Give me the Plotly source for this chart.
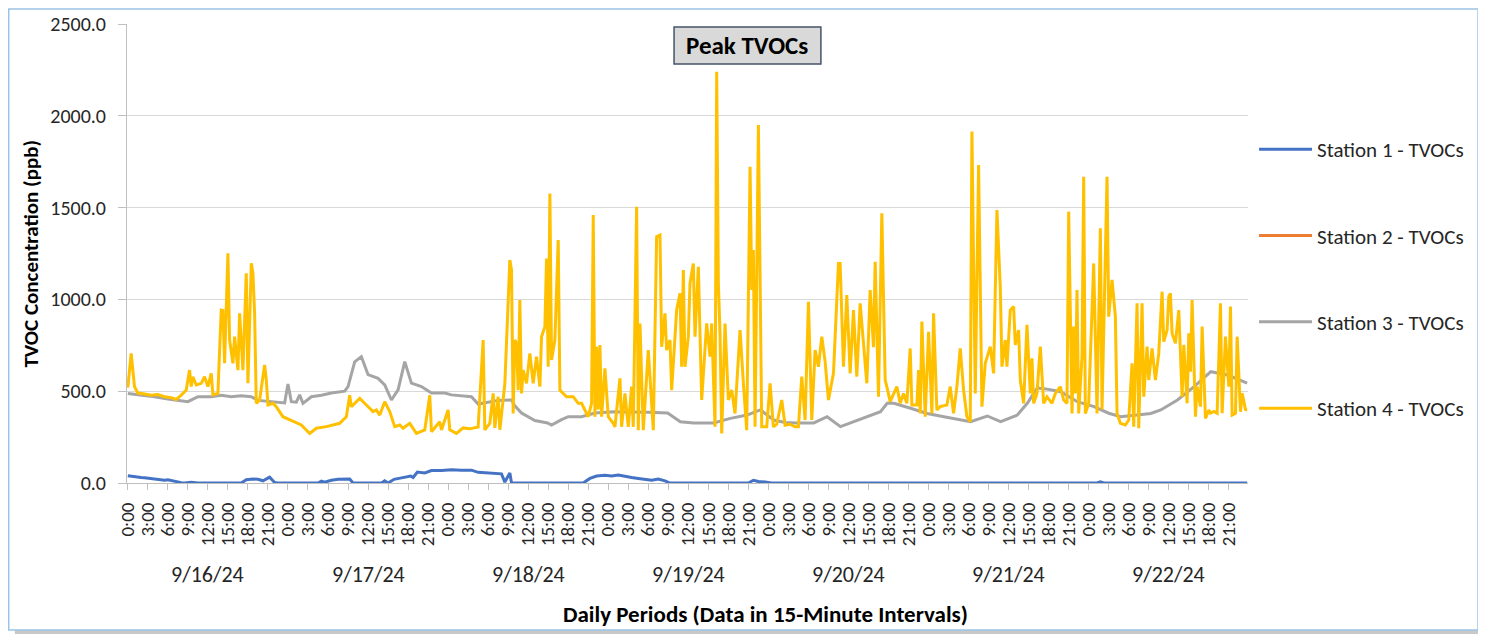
import plotly.graph_objects as go

# ---------------- data (hours since 9/16/24 0:00, values in ppb) ----------------
days = ["9/16/24", "9/17/24", "9/18/24", "9/19/24", "9/20/24", "9/21/24", "9/22/24"]
hour_labels = ["0:00", "3:00", "6:00", "9:00", "12:00", "15:00", "18:00", "21:00"]

s1_t = [0, 1, 2, 2.5, 3.5, 4.5, 5.5, 6, 7, 8, 8.5, 9.5, 10.5, 17, 17.75, 18.75, 19.5, 20.25, 21.25, 22, 22.5,
        28.5, 29, 29.5, 30.5, 31.5, 33.25, 33.75, 38, 38.5, 39, 39.9, 41, 42.4, 42.75, 43.4, 44.5, 45.5, 47,
        48.5, 50, 51.5, 52.5, 53.5, 55, 56, 56.5, 57.25, 57.5, 68.25, 69.25, 70.25, 71.5, 72.5, 73.5, 74.5,
        75.5, 76.5, 77.5, 78.5, 79.5, 80.5, 81.25, 93, 93.75, 94.5, 95.5, 96.5, 145.25, 145.75, 146.25, 167.75]
s1_v = [40, 37, 30, 28, 25, 20, 15, 18, 8, 2, 0, 4, 0, 0, 18, 22, 20, 12, 32, 3, 0,
        0, 10, 4, 15, 20, 22, 0, 0, 12, 0, 20, 28, 38, 30, 60, 55, 68, 68,
        72, 70, 70, 58, 55, 52, 50, 5, 55, 0, 0, 25, 38, 42, 38, 44, 36,
        30, 25, 20, 15, 22, 12, 0, 0, 15, 8, 5, 0, 0, 6, 0, 0]

s2_t = []
s2_v = []

s3_t = [0, 2, 4, 6, 7.5, 9, 10.5, 12.5, 14, 15.5, 17, 18.5, 19.5, 21, 22.5, 23.5, 24, 24.5, 25.25, 25.75,
        26.25, 27.5, 29, 30.5, 32.5, 33, 34, 35, 36, 37.5, 38.5, 39.5, 40.5, 41.5, 42.5, 44, 45.5, 47.5,
        48.5, 50, 51.5, 52.5, 54, 55.5, 57.5, 58, 59, 61, 62.9, 63.5, 65, 66, 68, 70, 72.8, 75.3, 78, 80.9,
        82.8, 84.8, 87.8, 90.3, 92.8, 94.8, 96.8, 98.5, 100.3, 102.8, 104.8, 106.8, 108.8, 110.8, 112.8,
        113.8, 114.8, 117.3, 119.8, 122.3, 124.8, 126.3, 128.8, 130.8, 133.3, 134.8, 136.3, 138, 139.8,
        142.3, 144.8, 147, 148.8, 150.8, 153.3, 154.8, 157.3, 159.8, 162.3, 164.8, 167.75]
s3_v = [488, 480, 470, 458, 452, 443, 470, 470, 478, 470, 475, 470, 450, 445, 440, 436, 539, 443, 440, 480,
        434, 470, 478, 490, 500, 525, 660, 688, 590, 570, 534, 452, 507, 661, 544, 525, 490, 490,
        480, 475, 470, 430, 440, 450, 452, 420, 381, 340, 327, 316, 345, 361, 361, 381, 388, 388, 385, 381,
        334, 327, 327, 352, 370, 398, 343, 330, 327, 327, 361, 307, 334, 365, 388,
        434, 434, 407, 379, 361, 343, 334, 365, 334, 370, 434, 518, 510, 497,
        443, 416, 380, 361, 370, 379, 398, 452, 525, 606, 588, 544]

s4_t = [0, 0.5, 1, 1.5, 2.5, 3.5, 4.5, 5.5, 6.5, 7.25, 8, 8.75, 9.25, 9.5, 9.75, 10.25, 11, 11.5, 12, 12.5,
        12.75, 13.5, 14, 14.25, 14.5, 15, 15.25, 15.75, 16, 16.5, 16.75, 17.25, 17.75, 18, 18.5, 18.75, 19,
        19.25, 19.75, 20.5, 20.75, 21, 21.75, 22.25, 23.25, 24.75, 26, 27.25, 28.25, 29.75, 31.75, 32.75,
        33.25, 33.5, 34.75, 35.75, 36.75, 37.25, 37.75, 38.5, 39.25, 40, 40.75, 41.25, 42.25, 43.25, 44.5,
        45.25, 45.5, 46.75, 47, 48, 48.25, 49.25, 50.25, 51.25, 52.5, 53.25, 53.5, 54.25, 54.75, 55, 55.5,
        55.75, 56.5, 57.25, 57.5, 57.75, 58, 58.25, 58.5, 58.75, 59, 59.25, 59.75, 60.25, 60.75, 61.25,
        61.75, 62, 62.5, 62.75, 63, 63.25, 63.5, 64, 64.5, 64.75, 65.25, 65.75, 66.75, 67.5, 68, 68.5, 69,
        69.5, 69.75, 70, 70.25, 70.5, 70.75, 71, 71.5, 72, 72.75, 73, 73.75, 74, 74.5, 75, 75.5, 75.75,
        76.25, 76.5, 76.75, 77.25, 78, 78.75, 79.25, 79.75, 80, 80.5, 80.75, 81.25, 81.5, 82.25, 82.75, 83,
        83.25, 83.5, 84, 84.25, 84.75, 85, 85.5, 86, 86.75, 87.25, 87.5, 88, 88.25, 88.5, 88.75, 89, 89.5,
        90, 90.5, 91, 91.75, 92.25, 92.75, 93.25, 93.5, 93.75, 94, 94.5, 94.75, 95, 95.75, 96.25, 96.75,
        97.25, 98, 98.5, 99.25, 100, 100.5, 101, 101.5, 102, 102.5, 103, 103.5, 104, 104.5, 105, 105.75,
        106.5, 106.75, 107.25, 107.75, 108.25, 108.75, 109.25, 109.75, 110.25, 110.75, 111.25, 111.75, 112,
        112.5, 113, 113.5, 113.75, 114.25, 115.25, 115.75, 116.25, 116.75, 117.25, 117.5, 118.25, 118.5,
        118.75, 119, 119.5, 120, 120.5, 120.75, 121.25, 121.75, 122.75, 123.25, 123.75, 124.25, 124.75,
        125.25, 125.75, 126.25, 126.5, 127, 127.5, 128, 128.5, 129.25, 129.75, 130.25, 130.75, 131, 131.5,
        131.75, 132.25, 132.75, 133, 133.5, 133.75, 134.25, 134.75, 135.25, 135.5, 135.75, 136.25, 136.75,
        137.25, 137.75, 138.5, 139, 139.75, 140.25, 140.75, 141, 141.5, 141.75, 142, 142.25, 142.5, 143,
        143.25, 143.5, 144, 144.75, 145.25, 145.75, 146, 146.75, 147, 147.5, 148, 148.25, 148.75, 149.5,
        150, 150.5, 150.75, 151.25, 151.5, 152, 152.25, 152.75, 153, 153.5, 154, 154.5, 155, 155.25, 155.75,
        156, 156.25, 156.5, 157, 157.5, 158, 158.25, 158.75, 159, 159.25, 159.5, 160, 160.25, 160.75, 161,
        161.5, 162, 162.25, 162.75, 163.25, 163.75, 164, 164.5, 165, 165.25, 165.5, 166, 166.25, 166.75,
        167, 167.5, 167.75]
s4_v = [520, 706, 525, 490, 485, 478, 482, 470, 465, 455, 478, 506, 615, 525, 579, 534, 543, 579, 525, 597,
        480, 488, 942, 940, 652, 1251, 779, 652, 797, 615, 924, 615, 1142, 543, 1197, 1142, 924,
        434, 452, 643, 561, 425, 434, 415, 361, 334, 316, 270, 298, 307, 325, 361,
        478, 415, 461, 425, 389, 398, 370, 443, 389, 307, 316, 298, 325, 270, 289,
        478, 279, 334, 289, 398, 290, 270, 300, 295, 305, 779, 289, 325, 488, 300, 470,
        290, 540, 1214, 1160, 379, 779, 760, 506, 996, 488, 615, 543, 706, 543, 688,
        525, 797, 851, 1223, 633, 1577, 670, 779, 1323, 506, 488, 470, 470, 434, 434, 397, 361,
        434, 1459, 361, 742, 400, 751, 361, 624, 361, 325, 306, 570, 306, 488, 306, 525, 306,
        1505, 288, 869, 288, 724, 288, 1341, 1350, 742, 924, 724, 779, 506, 942, 1033, 633,
        1160, 633, 797, 1087, 1196, 797, 1178, 452, 869, 688, 869, 306, 2240, 1087, 815, 270, 869,
        452, 506, 379, 833, 543, 288, 1723, 1051, 1269, 306, 1950, 906, 306, 306, 543, 306,
        320, 452, 315, 320, 306, 306, 579, 343, 987, 343, 724, 633, 797, 661, 452, 597,
        1196, 1196, 633, 1024, 597, 942, 579, 978, 761, 543, 1051, 740, 1205,
        470, 1469, 561, 525, 443, 525, 434, 488, 434, 733, 425, 425, 615,
        379, 879, 361, 824, 379, 924, 398, 416, 425, 525, 379, 525, 733,
        506, 361, 334, 1914, 488, 1732, 416, 652, 743, 597, 1487, 1069, 634, 779,
        634, 942, 961, 752, 833, 561, 434, 861, 488, 679, 434, 488, 743,
        434, 470, 434, 488, 525, 452, 434, 1478, 379, 852, 488, 1051, 379, 688,
        1668, 379, 434, 1196, 379, 1387, 400, 1668, 906, 1106, 906, 379, 325, 316,
        343, 652, 307, 979, 298, 979, 470, 743, 561, 733, 561, 706, 1042, 770, 833,
        1015, 1033, 815, 761, 942, 470, 752, 434, 815, 606, 997, 361, 525, 416, 852,
        352, 398, 380, 390, 380, 979, 380, 797, 525, 961, 370, 380, 797, 388,
        488, 400, 398]

# ---------------- figure ----------------
FONT = "Carlito, Calibri, Lato, sans-serif"
TXT = "#262626"
STEPS_PER_HOUR = 4  # data in 15-minute intervals


def to_idx(hours):
    return [h * STEPS_PER_HOUR for h in hours]


series = [
    ("Station 1 - TVOCs", s1_t, s1_v, "#4472c4"),
    ("Station 2 - TVOCs", s2_t, s2_v, "#ed7d31"),
    ("Station 3 - TVOCs", s3_t, s3_v, "#a5a5a5"),
    ("Station 4 - TVOCs", s4_t, s4_v, "#ffc000"),
]

fig = go.Figure()
for i, (name, t, v, col) in enumerate(series):
    x = to_idx(t) if t else [0]
    y = v if v else [None]
    fig.add_trace(go.Scatter(x=x, y=y, mode="lines", name=name, legendgroup=f"g{i}",
                             line=dict(color=col, width=3), connectgaps=False))

n_steps = len(days) * 24 * STEPS_PER_HOUR
tickvals, ticktext = [], []
for d in range(len(days)):
    for j, lab in enumerate(hour_labels):
        tickvals.append(d * 24 * STEPS_PER_HOUR + j * 3 * STEPS_PER_HOUR)
        ticktext.append(lab)

annotations = []
for d, lab in enumerate(days):
    annotations.append(dict(x=d * 24 * STEPS_PER_HOUR + 12 * STEPS_PER_HOUR, xref="x", y=-0.2, yref="paper",
                            text=lab, showarrow=False, font=dict(size=22, color=TXT, family=FONT),
                            xanchor="center", yanchor="middle"))

annotations.append(dict(x=0.553, y=0.953, xref="paper", yref="paper", text="<b>Peak TVOCs</b>",
                        showarrow=False, font=dict(size=25, color="#000000", family=FONT),
                        xanchor="center", yanchor="middle"))
annotations.append(dict(x=-0.0865, y=0.5, xref="paper", yref="paper", text="<b>TVOC Concentration (ppb)</b>",
                        textangle=-90, showarrow=False, font=dict(size=21, color="#000000", family=FONT),
                        xanchor="center", yanchor="middle"))
annotations.append(dict(x=0.570, y=-0.285, xref="paper", yref="paper",
                        text="<b>Daily Periods (Data in 15-Minute Intervals)</b>",
                        showarrow=False, font=dict(size=23, color="#000000", family=FONT),
                        xanchor="center", yanchor="middle"))

shapes = [
    # chart title box
    dict(type="rect", xref="paper", yref="paper", x0=0.488, x1=0.619, y0=0.9129, y1=0.9935,
         line=dict(color="#44546a", width=1.5), fillcolor="#d9d9d9", layer="above"),
    # outer frame shadow (right and bottom)
    dict(type="line", xref="paper", yref="paper", x0=1.2168, x1=1.2168, y0=-0.3246, y1=1.025,
         line=dict(color="#c8c8c8", width=4)),
    dict(type="line", xref="paper", yref="paper", x0=-0.100, x1=1.2168, y0=-0.3246, y1=-0.3246,
         line=dict(color="#c8c8c8", width=4)),
    # outer frame
    dict(type="rect", xref="paper", yref="paper", x0=-0.1055, x1=1.2052, y0=-0.3203, y1=1.0327,
         line=dict(color="#9dc3e6", width=1.5), fillcolor="rgba(0,0,0,0)"),
]

fig.update_layout(
    width=1478, height=626,
    margin=dict(l=119, r=238, t=16, b=151, autoexpand=False),
    paper_bgcolor="white", plot_bgcolor="white",
    font=dict(family=FONT, size=14, color=TXT),
    showlegend=True,
    legend=dict(x=1.0054, y=0.771, xanchor="left", yanchor="top", traceorder="grouped",
                tracegroupgap=56, itemwidth=53, font=dict(size=21, color=TXT, family=FONT),
                bgcolor="rgba(0,0,0,0)"),
    annotations=annotations,
    shapes=shapes,
)
fig.update_xaxes(range=[-0.5, n_steps - 0.5], tickmode="array", tickvals=tickvals, ticktext=ticktext,
                 tickangle=-90, showgrid=False, zeroline=False, showline=True, linecolor="#bfbfbf",
                 linewidth=1, ticks="outside", ticklen=6, tickcolor="#bfbfbf", ticklabelstandoff=5,
                 automargin=False, tickfont=dict(size=19, color=TXT, family=FONT))
fig.update_yaxes(range=[0, 2500], dtick=500, tickformat=".1f", showgrid=True, gridcolor="#d9d9d9",
                 gridwidth=1, zeroline=False, showline=True, linecolor="#bfbfbf", linewidth=1,
                 ticks="outside", ticklen=8, tickcolor="#bfbfbf", ticklabelstandoff=8,
                 automargin=False, tickfont=dict(size=20, color=TXT, family=FONT))

fig.write_html("out.html")
